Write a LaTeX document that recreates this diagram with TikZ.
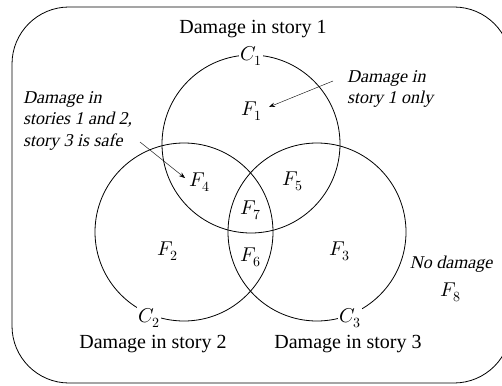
\documentclass[tikz,border=0pt]{standalone}
\usepackage{unicode-math}
\setmainfont{Liberation Serif}
\newfontfamily\notefont{Liberation Serif}[FakeSlant=0.22]
\setmathfont{Latin Modern Math}
\usetikzlibrary{arrows.meta}
\tikzset{
  venn/.style={circle, draw, line width=0.8pt, minimum size=178pt, inner sep=0pt},
  head/.style={font=\fontsize{20}{23}\selectfont, anchor=base, inner sep=0pt},
  note/.style={font=\notefont\fontsize{18}{20.5}\selectfont, align=left, inner sep=0pt},
  region/.style={font=\fontsize{20}{23}\selectfont, inner sep=0pt},
  clabel/.style={font=\fontsize{20}{23}\selectfont, fill=white, inner sep=1.5pt},
  pointer/.style={line width=0.4pt, -{Stealth[length=6pt,width=4.5pt]}}
}
\begin{document}
\begin{tikzpicture}[x=1pt,y=-1pt]
\useasboundingbox (0,0) rectangle (502,385);
\clip (0,0) rectangle (502,385);
\fill[white] (0,0) rectangle (502,385);
\draw[line width=0.8pt, rounded corners=57pt] (12,7) rectangle (511,383);
% circles
\node[venn] (c1) at (251,144) {};
\node[venn] (c2) at (184,232) {};
\node[venn] (c3) at (317,232) {};
% circle labels
\node[clabel] (lc1) at (251,56) {$C_1$};
\node[clabel] (lc2) at (149,318) {$C_2$};
\node[clabel] (lc3) at (350,318) {$C_3$};
% headings
\node[head] (h1) at (253,34) {Damage in story 1};
\node[head] (h2) at (153,348) {Damage in story 2};
\node[head] (h3) at (348,348) {Damage in story 3};
% regions
\node[region] (f1) at (252,111) {$F_1$};
\node[region] (f2) at (168,251) {$F_2$};
\node[region] (f3) at (340,251) {$F_3$};
\node[region] (f4) at (200,182) {$F_4$};
\node[region] (f5) at (293,181) {$F_5$};
\node[region] (f6) at (251,257) {$F_6$};
\node[region] (f7) at (251,210) {$F_7$};
\node[region] (f8) at (451,292) {$F_8$};
% notes
\node[note, anchor=base west] (n1) at (347,103) {Damage in\\story 1 only};
\node[note, anchor=base west, font=\notefont\fontsize{18}{21.5}\selectfont] (n2) at (23,146) {Damage in\\stories 1 and 2,\\story 3 is safe};
\node[note, anchor=base] (n8) at (451,268) {No damage};
% pointers
\coordinate (p1s) at (333,81);
\coordinate (p1e) at (269,107);
\coordinate (p2s) at (140,142);
\coordinate (p2e) at (185,178);
\draw[pointer] (p1s) -- (p1e);
\draw[pointer] (p2s) -- (p2e);
\end{tikzpicture}
\end{document}
